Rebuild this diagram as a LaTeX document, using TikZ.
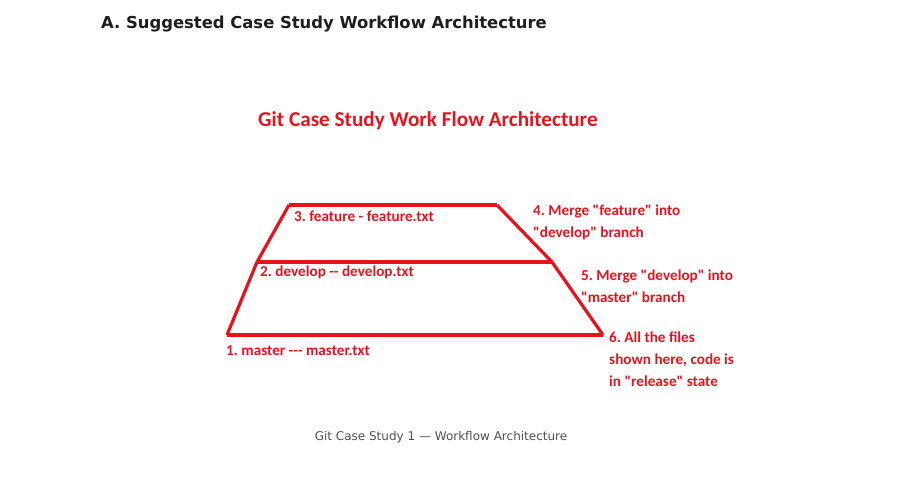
\documentclass[tikz,border=0pt]{standalone}
\usepackage{fontspec}
\setmainfont{Carlito}[Ligatures=TeXOff]
\newfontfamily\headfont{DejaVu Sans}
\usepackage{xcolor}
\definecolor{ColRed}{RGB}{232,18,30}
\definecolor{ColHead}{RGB}{30,30,30}
\definecolor{ColCap}{RGB}{80,80,80}
\usepackage{tikz}
\frenchspacing
\tikzstyle{Edge}=[draw=ColRed,line width=3.2pt,line join=round]
\tikzstyle{NodeST}=[inner sep=0pt,anchor=west,text=ColRed,align=left,
font=\bfseries\fontsize{15.2}{22}\selectfont]
\tikzstyle{Head}=[inner sep=0pt,anchor=west,text=ColHead,
font=\headfont\bfseries\fontsize{16.4}{20}\selectfont]
\tikzstyle{Caption}=[inner sep=0pt,text=ColCap,
font=\headfont\fontsize{12}{14}\selectfont]

\begin{document}
\begin{tikzpicture}[x=1pt,y=-1pt]
        \useasboundingbox (0,0) rectangle (917,477);
        \node[Head](h)at(101,24){A. Suggested Case Study Workflow Architecture};
        \node[NodeST,font=\bfseries\fontsize{21.2}{26}\selectfont](t)at(258,121){Git Case Study Work Flow Architecture};
        % corners of the stacked layers
        \coordinate(fl)at(289,205);
        \coordinate(fr)at(497,205);
        \coordinate(dl)at(257,262);
        \coordinate(dr)at(552,262);
        \coordinate(ml)at(227,335);
        \coordinate(mr)at(603,335);
        \draw[Edge](fl)--(fr);
        \draw[Edge](dl)--(dr);
        \draw[Edge](ml)--(mr);
        \draw[Edge](fl)--(dl);
        \draw[Edge](dl)--(ml);
        \draw[Edge](fr)--(dr);
        \draw[Edge](dr)--(mr);
        \node[NodeST](3)at(294,216){3. feature - feature.txt};
        \node[NodeST](2)at(260,272){2. develop -- develop.txt};
        \node[NodeST](1)at(226,351){1. master --- master.txt};
        \node[NodeST](4)at(533,222){4. Merge "feature" into\\"develop" branch};
        \node[NodeST](5)at(581,286){5. Merge "develop" into\\"master" branch};
        \node[NodeST](6)at(609,359){6. All the files\\shown here, code is\\in "release" state};
        \node[Caption](c)at(441,437){Git Case Study 1 — Workflow Architecture};
    \end{tikzpicture}
\end{document}
